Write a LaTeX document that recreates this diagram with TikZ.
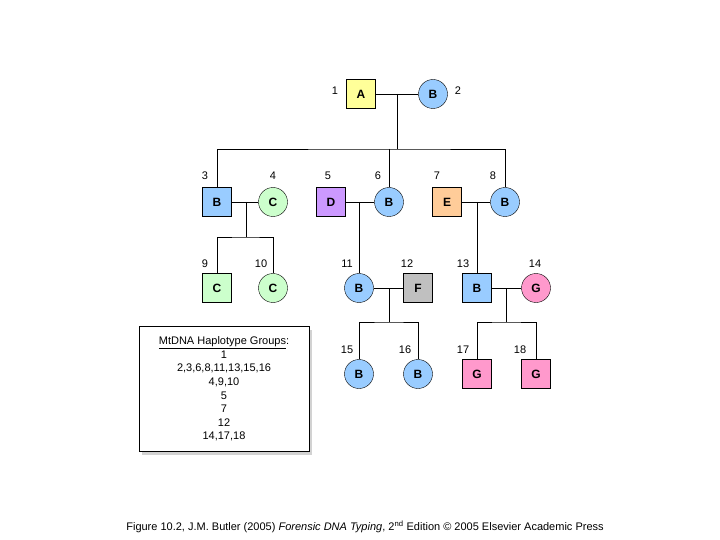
\documentclass[tikz,border=0pt]{standalone}
\usepackage{fontspec}
\setmainfont{Liberation Sans}
\usetikzlibrary{positioning,calc,shadows}
\definecolor{hA}{HTML}{FFFF99}
\definecolor{hB}{HTML}{99CCFF}
\definecolor{hC}{HTML}{CCFFCC}
\definecolor{hD}{HTML}{CC99FF}
\definecolor{hE}{HTML}{FFCC99}
\definecolor{hF}{HTML}{C0C0C0}
\definecolor{hG}{HTML}{FF99CC}
\tikzset{
  male/.style={draw,rectangle,minimum size=29pt,inner sep=0pt,font=\bfseries\fontsize{12}{12}\selectfont},
  female/.style={draw,circle,minimum size=29pt,inner sep=0pt,font=\bfseries\fontsize{12}{12}\selectfont},
  num/.style={font=\fontsize{11}{11}\selectfont}
}
\begin{document}
\begin{tikzpicture}[x=1pt,y=-1pt]
\useasboundingbox (0,0) rectangle (720,540);
% generation 1
\node[male,fill=hA] (p1) at (361,94) {A};
\node[female,fill=hB] (p2) at (433,94) {B};
% generation 2
\node[male,fill=hB] (p3) at (217,202) {B};
\node[female,fill=hC] (p4) at (273,202) {C};
\node[male,fill=hD] (p5) at (331,202) {D};
\node[female,fill=hB] (p6) at (389,202) {B};
\node[male,fill=hE] (p7) at (447,202) {E};
\node[female,fill=hB] (p8) at (505,202) {B};
% generation 3
\node[male,fill=hC] (p9) at (217,288) {C};
\node[female,fill=hC] (p10) at (273,288) {C};
\node[female,fill=hB] (p11) at (359,288) {B};
\node[male,fill=hF] (p12) at (418,288) {F};
\node[male,fill=hB] (p13) at (477,288) {B};
\node[female,fill=hG] (p14) at (536,288) {G};
% generation 4
\node[female,fill=hB] (p15) at (359,374) {B};
\node[female,fill=hB] (p16) at (418,374) {B};
\node[male,fill=hG] (p17) at (477,374) {G};
\node[male,fill=hG] (p18) at (536,374) {G};
% numbers
\node[num] at (335,91) {1};
\node[num] at (458,91) {2};
\foreach \n/\x in {3/205,4/273,5/328,6/378,7/437,8/493}
  \node[num] at (\x,176) {\n};
\foreach \n/\x in {9/205,10/261,11/347,12/407,13/463,14/535}
  \node[num] at (\x,264) {\n};
\foreach \n/\x in {15/347,16/405,17/463,18/520}
  \node[num] at (\x,350) {\n};
% lines
\coordinate (m12) at (397,94);
\coordinate (s1) at (397,149);
\draw (p1) -- (p2);
\draw (m12) -- (s1);
\draw (p3.north) |- (s1) -| (p8.north);
\draw (s1 -| p6) -- (p6.north);
\coordinate (m34) at (246,202);
\coordinate (s34) at (246,237);
\draw (p3) -- (p4);
\draw (m34) -- (s34);
\draw (p9.north) |- (s34) -| (p10.north);
\draw (p5) -- (p6);
\draw (p7) -- (p8);
\draw (p11) -- (p12);
\draw (p13) -- (p14);
\coordinate (m56) at (359,202);
\draw (m56) -- (p11.north);
\coordinate (m78) at (477,202);
\draw (m78) -- (p13.north);
\coordinate (m1112) at (389,288);
\coordinate (s1112) at (389,322);
\draw (m1112) -- (s1112);
\draw (p15.north) |- (s1112) -| (p16.north);
\coordinate (m1314) at (506,288);
\coordinate (s1314) at (506,322);
\draw (m1314) -- (s1314);
\draw (p17.north) |- (s1314) -| (p18.north);
% legend
\node[draw,fill=white,drop shadow={shadow xshift=3pt,shadow yshift=-3pt,fill=gray!70},
  minimum width=170pt,minimum height=125pt,align=center,font=\fontsize{11}{13.6}\selectfont] (legend) at (224,389)
  {\underline{MtDNA Haplotype Groups}:\\1\\2,3,6,8,11,13,15,16\\4,9,10\\5\\7\\12\\14,17,18};
\node[font=\fontsize{11}{11}\selectfont] (caption) at (365,527)
  {Figure 10.2, J.M. Butler (2005) \textit{Forensic DNA Typing}, 2\textsuperscript{nd} Edition \copyright{} 2005 Elsevier Academic Press};
\end{tikzpicture}
\end{document}
